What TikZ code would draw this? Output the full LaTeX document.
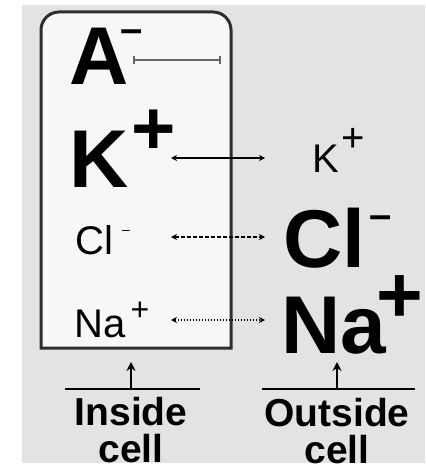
\documentclass[tikz,border=0pt]{standalone}
\usepackage{fontspec}
\setmainfont{Liberation Sans}
\usepackage{tikz}
\usetikzlibrary{arrows.meta, positioning}

\definecolor{bggray}{HTML}{E3E3E3}
\definecolor{cellfill}{HTML}{F7F7F7}
\definecolor{membrane}{HTML}{2E2E2E}

\begin{document}
\begin{tikzpicture}[
  x=1pt, y=-1pt,
  big/.style    = {inner sep=0, font=\bfseries\fontsize{82}{82}\selectfont},
  small/.style  = {inner sep=0, font=\fontsize{40}{40}\selectfont},
  bigchg/.style = {inner sep=0, anchor=base, font=\bfseries\fontsize{#1}{#1}\selectfont},
  smlchg/.style = {inner sep=0, anchor=base, font=\fontsize{#1}{#1}\selectfont},
  side/.style   = {inner sep=0, align=center, font=\bfseries\fontsize{39}{37}\selectfont},
  arr/.style    = {{Stealth[length=6pt,width=6pt]}-{Stealth[length=6pt,width=6pt]}, line width=1.3pt},
  up/.style     = {-{Stealth[length=9pt,width=9pt]}, line width=2pt}
]
\useasboundingbox (0,0) rectangle (425,473);
\fill[white] (0,0) rectangle (425,473);
\fill[bggray] (22,5) rectangle (425,463);

% the cell
\filldraw[fill=cellfill, draw=membrane, line width=3pt]
  (41,348) {[rounded corners=18pt] -- (41,12) -- (231,12)} -- (231,348) -- cycle;

% ions inside
\node[big, anchor=base west] (ain) at (69,85) {A};
\node[bigchg=40] (ach) at (132,43) {–};
\node[big, anchor=base west] (kin) at (69,187) {K};
\node[bigchg=76] (kch) at (154,154) {+};
\node[small, anchor=base west] (clin) at (75,254) {Cl};
\node[smlchg=14] (clch) at (126,234) {–};
\node[small, anchor=base west] (nain) at (74,337) {Na};
\node[smlchg=32] (nach) at (140,320) {+};

% ions outside
\node[small, anchor=base west] (kout) at (312,172) {K};
\node[smlchg=40] (kochg) at (353,152) {+};
\node[big, anchor=base west] (clout) at (283,267) {Cl};
\node[bigchg=40] (clochg) at (381,228) {–};
\node[big, anchor=base west] (naout) at (281,353) {Na};
\node[bigchg=80] (naochg) at (400,322) {+};

% exchange arrows
\coordinate (a1) at (133,60);  \coordinate (a2) at (221,60);
\coordinate (k1) at (171,158); \coordinate (k2) at (265,158);
\coordinate (c1) at (171,237); \coordinate (c2) at (265,237);
\coordinate (n1) at (171,320); \coordinate (n2) at (265,320);
\draw[{Bar[width=8pt,line width=2pt]}-{Bar[width=8pt,line width=2pt]}, line width=2.5pt, black!60] (a1) -- (a2);
\draw[arr] (k1) -- (k2);
\draw[arr, dash pattern=on 4pt off 2pt] (c1) -- (c2);
\draw[arr, dash pattern=on 1.5pt off 1.5pt] (n1) -- (n2);

% side labels
\coordinate (il) at (65,389);  \coordinate (ir) at (200,389);
\coordinate (ol) at (262,389); \coordinate (or) at (415,389);
\draw[line width=2pt] (il) -- (ir);
\draw[line width=2pt] (ol) -- (or);
\coordinate (itip) at (131,362); \coordinate (otip) at (337,362);
\draw[up] (il -| itip) -- (itip);
\draw[up] (ol -| otip) -- (otip);
\node[side, anchor=north] (inside) at (131,397) {Inside\\cell};
\node[side, anchor=north] (outside) at (337,398) {Outside\\cell};

\end{tikzpicture}
\end{document}
